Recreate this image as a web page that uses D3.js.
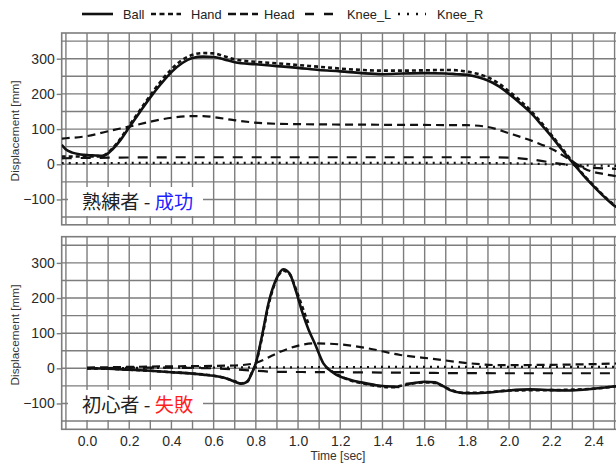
<!DOCTYPE html>
<html><head><meta charset="utf-8">
<script src="https://cdn.jsdelivr.net/npm/d3@7"></script>
<style>body{margin:0;background:#fff}svg{display:block}</style>
</head><body>
<script>
// ---------- DATA ----------
const seriesNames = ["Ball","Hand","Head","Knee_L","Knee_R"];
const xTicks = [0.0,0.2,0.4,0.6,0.8,1.0,1.2,1.4,1.6,1.8,2.0,2.2,2.4];
const yTicks = [-100,0,100,200,300];
const panelLabelMain = ["熟練者 - ","初心者 - "];
const panelLabelResult = ["成功","失敗"];

// Expert (success) panel
const expertBall = [[-0.12,55],[-0.1,42],[-0.07,33],[-0.03,28],[0.0,26],[0.04,25],[0.07,24],[0.09,27],[0.12,42],[0.16,70],[0.2,105],[0.25,148],[0.3,190],[0.35,228],[0.4,262],[0.45,287],[0.5,302],[0.55,306],[0.6,305],[0.65,298],[0.7,290],[0.8,284],[0.9,279],[1.0,274],[1.1,268],[1.2,264],[1.3,259],[1.4,256],[1.5,258],[1.6,259],[1.7,258],[1.75,256],[1.8,254],[1.85,248],[1.9,238],[1.95,222],[2.0,200],[2.05,175],[2.1,148],[2.15,115],[2.2,80],[2.25,42],[2.3,5],[2.35,-30],[2.4,-62],[2.45,-92],[2.5,-118],[2.52,-125]];
const expertHand = [[-0.12,22],[0.0,22],[0.06,22],[0.08,25],[0.12,45],[0.16,74],[0.2,110],[0.25,153],[0.3,196],[0.35,236],[0.4,270],[0.45,296],[0.5,311],[0.55,316],[0.6,315],[0.65,307],[0.7,298],[0.8,291],[0.9,287],[1.0,282],[1.1,277],[1.2,272],[1.3,268],[1.4,266],[1.5,266],[1.6,267],[1.7,268],[1.75,267],[1.8,263],[1.85,257],[1.9,247],[1.95,230],[2.0,207],[2.05,182],[2.1,154],[2.15,120],[2.2,84],[2.25,46],[2.3,8],[2.35,-28],[2.4,-60],[2.45,-90],[2.5,-116],[2.52,-122]];
const expertHead = [[-0.12,73],[-0.1,74],[0.0,80],[0.06,88],[0.1,94],[0.2,107],[0.3,121],[0.41,133],[0.5,137],[0.55,137],[0.6,134],[0.69,126],[0.85,116],[1.0,114],[1.17,113],[1.48,112],[1.8,111],[1.9,106],[2.0,88],[2.12,64],[2.21,41],[2.29,12],[2.37,-16],[2.45,-28],[2.52,-35]];
const expertKneeL = [[-0.12,17],[0.0,18],[0.5,20],[1.0,20],[1.5,20],[1.9,20],[2.0,19],[2.1,14],[2.2,5],[2.3,-3],[2.4,-10],[2.52,-13]];
const expertKneeR = [[-0.12,3],[0.5,4],[1.0,4],[1.5,4],[2.0,3],[2.2,0],[2.3,-2],[2.52,-5]];

// Novice (failure) panel
const noviceBall = [[0.0,0],[0.1,-1],[0.2,-4],[0.3,-7],[0.4,-11],[0.5,-15],[0.55,-18],[0.6,-21],[0.65,-27],[0.7,-38],[0.73,-44],[0.76,-38],[0.78,-15],[0.8,15],[0.83,95],[0.86,185],[0.9,258],[0.93,282],[0.96,270],[0.99,220],[1.02,160],[1.05,110],[1.08,70],[1.12,14],[1.17,-14],[1.25,-33],[1.3,-40],[1.37,-48],[1.45,-52],[1.48,-53],[1.49,null],[1.51,-45],[1.55,-42],[1.6,-38],[1.65,-40],[1.68,-48],[1.72,-62],[1.78,-70],[1.85,-71],[1.9,-69],[2.0,-63],[2.1,-60],[2.2,-62],[2.3,-63],[2.4,-58],[2.52,-50]];
const noviceHand = [[0.0,0],[0.1,-1],[0.2,-4],[0.3,-7],[0.4,-11],[0.5,-15],[0.6,-21],[0.65,-27],[0.7,-37],[0.73,-43],[0.76,-37],[0.78,-14],[0.8,14],[0.83,90],[0.86,180],[0.9,255],[0.93,278],[0.96,268],[0.99,225],[1.02,175],[1.048,129],[1.06,null],[1.13,5],[1.17,-12],[1.25,-35],[1.3,-42],[1.37,-50],[1.45,-54],[1.5,-48],[1.6,-40],[1.65,-42],[1.7,-55],[1.78,-70],[1.9,-68],[2.0,-63],[2.2,-62],[2.4,-58],[2.52,-50]];
const noviceHead = [[0.0,2],[0.3,5],[0.6,7],[0.7,8],[0.79,14],[0.85,28],[0.9,43],[0.95,55],[1.01,66],[1.075,71],[1.2,68],[1.33,57],[1.485,38],[1.64,27],[1.8,15],[1.96,9],[2.2,10],[2.4,12],[2.52,14]];
const noviceKneeL = [[0.0,0],[0.3,2],[0.6,0],[0.75,-5],[0.9,-10],[1.2,-11],[1.6,-13],[2.0,-14],[2.52,-14]];
const noviceKneeR = [[0.0,0],[0.5,2],[1.0,3],[1.5,4],[2.0,4],[2.52,4]];

const panels = [
  {series:[expertBall,expertHand,expertHead,expertKneeL,expertKneeR]},
  {series:[noviceBall,noviceHand,noviceHead,noviceKneeL,noviceKneeR]}
];

// ---------- STYLE / LAYOUT ----------
const W = 616, H = 463;
const styles = [
  {w:2.6, dash:null},
  {w:2.6, dash:"4,3"},
  {w:2.2, dash:"8,5"},
  {w:2.2, dash:"10,9"},
  {w:2.2, dash:"2,5"}
];
const labelColors = ["#1f1fff","#ff1f1f"];
const gridColor = "#7d7d7d";
const fontLat = "'Liberation Sans', Arial, sans-serif";
const fontCJK = "'Noto Sans CJK JP', 'Noto Sans CJK SC', sans-serif";

const svg = d3.select("body").append("svg").attr("width",W).attr("height",H);

const x = d3.scaleLinear().domain([-0.12,2.52]).range([61.7,618.8]);
const panelGeo = [
  {yDomain:[-172,373], yRange:[224.8,33.0], label:{x0:68,x1:203,y0:187,y1:216}},
  {yDomain:[-173.5,374.5], yRange:[429.3,236.7], label:{x0:68,x1:203,y0:390,y1:420}}
];

// Legend
const legendItems = [
  {sx:82, tx:123}, {sx:151, tx:191}, {sx:228, tx:264}, {sx:305, tx:347}, {sx:398, tx:437}
];
const legendLen = [31,30,30,29,28];
const legendDash = [null,"5,3.5","8,4","9,10","2,7"];
const lg = svg.append("g");
seriesNames.forEach((n,i)=>{
  const it = legendItems[i];
  lg.append("line").attr("x1",it.sx).attr("x2",it.sx+legendLen[i]).attr("y1",14).attr("y2",14)
    .attr("stroke","#111").attr("stroke-width",2.6).attr("stroke-dasharray",legendDash[i]);
  lg.append("text").attr("x",it.tx).attr("y",18.5).text(n)
    .attr("font-family",fontLat).attr("font-size",12.8).attr("fill","#222");
});

panels.forEach((p,pi)=>{
  const geo = panelGeo[pi];
  const y = d3.scaleLinear().domain(geo.yDomain).range(geo.yRange);
  const g = svg.append("g");
  const top = geo.yRange[1], bot = geo.yRange[0], left = x.range()[0], right = x.range()[1];
  const clipId = "clip"+pi;
  svg.append("clipPath").attr("id",clipId).append("rect")
    .attr("x",left).attr("y",top).attr("width",right-left).attr("height",bot-top);

  // grid
  const vGrid = d3.range(-1,26).map(d=>d/10);
  g.selectAll(".vg").data(vGrid).join("line")
    .attr("x1",d=>x(d)).attr("x2",d=>x(d)).attr("y1",top).attr("y2",bot)
    .attr("stroke",gridColor).attr("stroke-width",1.4);
  const hGrid = d3.range(-150,351,50);
  g.selectAll(".hg").data(hGrid).join("line")
    .attr("x1",left).attr("x2",right).attr("y1",d=>y(d)).attr("y2",d=>y(d))
    .attr("stroke",gridColor).attr("stroke-width",1.4);
  // frame
  g.append("rect").attr("x",left).attr("y",top).attr("width",right-left).attr("height",bot-top)
    .attr("fill","none").attr("stroke",gridColor).attr("stroke-width",1.6);

  // y axis
  const yAxis = d3.axisLeft(y).tickValues(yTicks).tickSize(5).tickPadding(2).tickFormat(d3.format("d"));
  const ya = g.append("g").attr("transform",`translate(${left},0)`).call(yAxis);
  ya.select(".domain").remove();
  ya.selectAll("line").attr("stroke",gridColor).attr("stroke-width",1.4);
  ya.selectAll("text").attr("font-family",fontLat).attr("font-size",14).attr("fill","#2a2a2a");

  g.append("text").attr("transform",`translate(19,${(top+bot)/2+2}) rotate(-90)`)
    .attr("text-anchor","middle").attr("font-family",fontLat).attr("font-size",11.8).attr("fill","#333")
    .text("Displacement [mm]");

  // label box
  const L = geo.label;
  g.append("rect").attr("x",L.x0).attr("y",L.y0).attr("width",L.x1-L.x0).attr("height",L.y1-L.y0).attr("fill","#fff");
  const t = g.append("text").attr("x",82).attr("y",(L.y0+L.y1)/2+7)
    .attr("font-family",fontCJK).attr("font-size",19.2);
  t.append("tspan").attr("fill","#222").text(panelLabelMain[pi]);
  t.append("tspan").attr("fill",labelColors[pi]).text(panelLabelResult[pi]);

  // lines
  const lineGen = d3.line().defined(d=>d[1]!==null).x(d=>x(d[0])).y(d=>y(d[1])).curve(d3.curveMonotoneX);
  const lgp = g.append("g").attr("clip-path",`url(#${clipId})`);
  [4,3,2,1,0].forEach(si=>{
    lgp.append("path").attr("d",lineGen(p.series[si])).attr("fill","none")
      .attr("stroke","#111").attr("stroke-width",styles[si].w)
      .attr("stroke-dasharray",styles[si].dash).attr("stroke-linejoin","round");
  });

  if(pi===1){
    const xAxis = d3.axisBottom(x).tickValues(xTicks).tickSize(0).tickPadding(7).tickFormat(d3.format(".1f"));
    const xa = g.append("g").attr("transform",`translate(0,${bot})`).call(xAxis);
    xa.select(".domain").remove();
    xa.selectAll("text").attr("font-family",fontLat).attr("font-size",14).attr("fill","#2a2a2a");
    g.append("text").attr("x",338).attr("y",460).attr("text-anchor","middle")
      .attr("font-family",fontLat).attr("font-size",12).attr("fill","#333").text("Time [sec]");
  }
});
</script>
</body></html>
